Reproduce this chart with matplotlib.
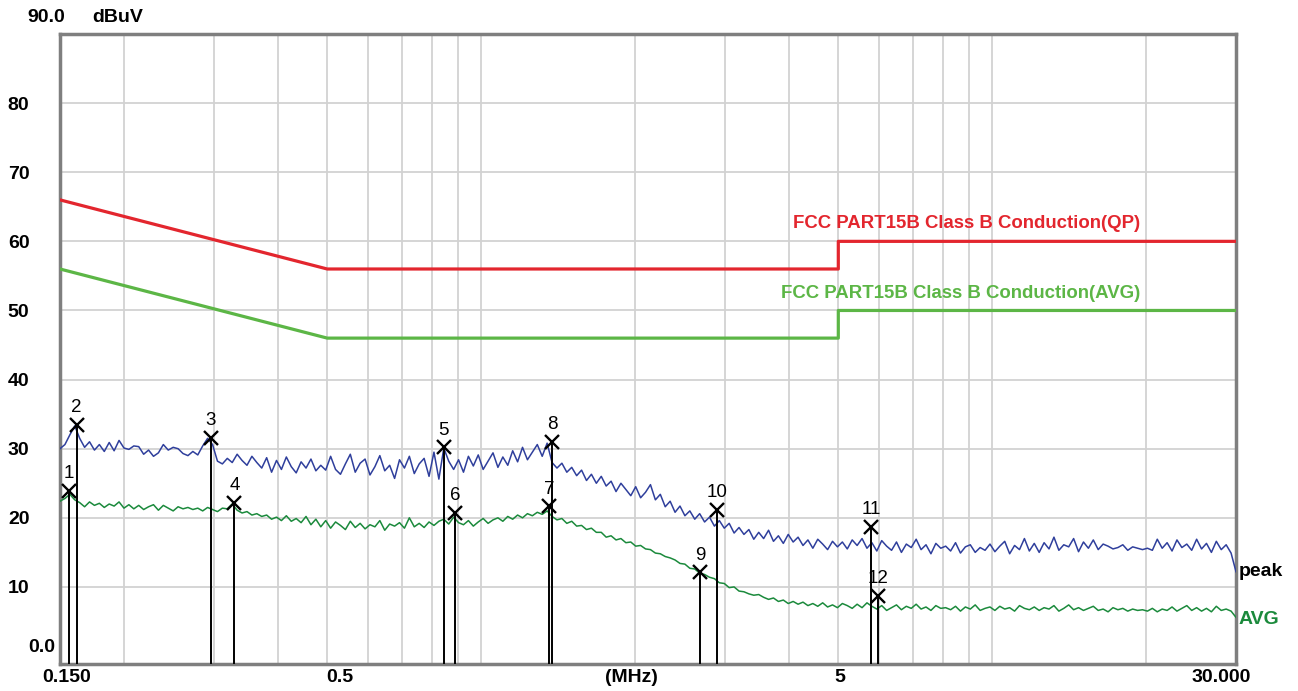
import numpy as np
import matplotlib
matplotlib.use("Agg")
import matplotlib.pyplot as plt
from matplotlib.ticker import NullFormatter, FixedLocator

# ---------------- data ----------------
f_start, f_stop = 0.15, 30.0

peak_level = [
    30.0, 30.6, 32.0, 33.3, 31.5, 30.2, 31.0, 29.8, 30.6, 29.6,
    30.9, 29.7, 31.2, 30.1, 29.9, 30.4, 30.3, 29.2, 29.8, 28.9,
    29.4, 30.6, 29.8, 30.2, 30.0, 29.3, 29.0, 29.6, 29.1, 30.4,
    31.5, 30.6, 28.2, 27.8, 28.6, 28.0, 29.2, 28.3, 27.6, 28.9,
    28.0, 27.2, 28.7, 26.6, 28.3, 27.0, 28.8, 27.4, 26.5, 28.1,
    27.2, 28.5, 26.8, 27.6, 26.9, 28.9, 27.0, 26.3, 27.8, 29.2,
    26.6, 27.9, 28.5, 26.2, 27.4, 29.0, 26.8, 27.6, 25.7, 28.4,
    27.2, 28.9, 26.4, 27.8, 28.6, 26.0, 29.5, 25.6, 30.1, 28.2,
    27.0, 28.4, 26.6, 28.9, 27.5, 29.1, 27.0, 28.2, 29.4, 27.3,
    28.8, 27.6, 29.7, 28.1, 30.2, 28.4, 29.5, 30.6, 28.9, 30.8,
    28.0, 27.2, 27.9, 26.6, 27.3, 26.1, 26.9, 25.4, 26.3, 25.0,
    26.0, 24.6, 25.3, 23.8, 25.0, 24.1, 23.2, 24.5, 22.9, 23.7,
    24.8, 22.6, 23.4, 21.6, 22.4, 20.8, 21.7, 20.3, 21.0, 19.8,
    20.6, 19.4, 20.1, 18.8, 19.6, 18.5, 19.2, 17.8, 18.6, 17.6,
    18.3, 16.9, 17.9, 17.0, 18.2, 16.6, 17.4, 16.3, 17.6, 16.5,
    17.2, 16.0, 16.8, 15.6, 16.9, 16.2, 15.4, 16.6, 15.8, 16.5,
    15.5, 16.8, 16.0, 17.0, 15.6, 16.4, 15.2, 16.7, 15.9, 15.3,
    16.5, 15.0, 16.2, 15.7, 16.9, 15.4, 16.1, 14.8, 16.3, 15.6,
    15.9, 15.2, 16.4, 14.9, 15.8, 16.1, 15.0, 15.7, 15.3, 16.2,
    15.1, 15.9, 16.6, 14.8, 16.0, 15.4, 17.0, 15.2, 16.3, 15.0,
    16.4, 15.5, 17.2, 15.3, 16.1, 15.8, 17.0, 15.1, 16.5, 15.6,
    16.8, 15.4, 16.2, 15.9, 15.5, 15.7, 16.1, 15.3, 15.8, 15.6,
    15.4, 15.6, 15.3, 16.9, 15.6, 16.4, 15.2, 16.8, 15.7, 16.2,
    15.3, 16.9, 15.5, 16.3, 15.0, 16.6, 15.4, 16.1, 14.9, 12.2,
]

avg_level = [
    22.4, 22.8, 23.4, 22.6, 22.2, 21.6, 22.3, 21.8, 22.1, 21.5,
    22.0, 21.7, 22.3, 21.4, 21.9, 21.3, 21.8, 21.2, 21.6, 21.9,
    21.1, 21.8, 21.4, 21.0, 21.6, 21.3, 21.5, 21.2, 21.4, 21.0,
    21.5, 21.2, 20.9, 21.4, 21.3, 22.0, 21.1, 20.7, 20.9, 20.4,
    20.6, 20.2, 20.4, 19.8, 20.1, 19.6, 20.3, 19.5, 19.9, 19.3,
    20.2, 19.0, 19.8, 18.7, 19.6, 18.5, 19.4, 18.9, 18.3, 19.5,
    18.6, 19.2, 18.4, 19.0, 18.7, 19.6, 18.2, 19.1, 18.8, 19.3,
    18.5, 20.0, 18.7, 19.2, 18.6, 19.4, 18.9, 19.5, 19.8, 19.1,
    20.1, 19.3, 19.0, 19.6, 18.8, 19.4, 19.9, 19.2, 19.7, 20.0,
    19.5, 20.2, 19.8, 20.4, 20.0, 20.6, 20.3, 20.8, 20.5, 21.0,
    20.2, 19.7, 19.9, 19.2, 19.5, 18.8, 18.9, 18.3, 18.5, 17.9,
    17.9, 17.2, 17.4, 16.8, 17.0, 16.4, 16.5, 15.9, 16.0, 15.5,
    15.4, 14.9, 14.8, 14.4, 14.2, 13.9, 13.4, 13.3, 12.7, 12.6,
    12.0, 11.8, 11.4, 11.2, 10.6, 10.5, 9.9, 10.0, 9.4, 9.3,
    9.0, 8.8, 8.9, 8.5, 8.2, 8.4, 7.9, 8.1, 7.6, 7.9,
    7.5, 7.8, 7.3, 7.6, 7.2, 7.7, 7.1, 7.4, 7.0, 7.6,
    7.3, 6.9, 7.5, 7.0, 7.7, 7.2, 6.8, 7.3, 6.6, 7.0,
    7.4, 6.7, 7.2, 6.9, 7.5, 6.8, 7.1, 6.6, 7.3, 6.9,
    7.0, 6.7, 7.2, 6.5, 7.1, 6.8, 7.4, 6.6, 6.9, 7.1,
    6.6, 7.2, 6.8, 7.0, 6.5, 7.3, 6.9, 6.7, 7.1, 6.6,
    7.0, 6.8, 7.3, 6.5, 6.9, 7.4, 6.7, 7.0, 6.6, 6.9,
    7.2, 6.6, 6.8, 6.4, 7.0, 6.7, 6.9, 6.5, 6.8, 6.6,
    6.7, 6.5, 6.9, 6.4, 6.8, 6.6, 7.1, 6.5, 6.9, 7.3,
    6.6, 7.0, 6.5, 6.9, 6.4, 7.2, 6.6, 6.8, 6.5, 5.6,
]

# sweep frequencies (log-spaced receiver sweep)
sweep_freq = np.geomspace(f_start, f_stop, len(peak_level))

# limit lines (FCC Part 15B Class B conducted)
qp_limit_freq = [0.15, 0.5, 5.0, 5.0, 30.0]
qp_limit_level = [66.0, 56.0, 56.0, 60.0, 60.0]
avg_limit_freq = [0.15, 0.5, 5.0, 5.0, 30.0]
avg_limit_level = [56.0, 46.0, 46.0, 50.0, 50.0]

# markers
marker_id = ["1", "2", "3", "4", "5", "6", "7", "8", "9", "10", "11", "12"]
marker_freq = [0.1562, 0.1617, 0.296, 0.329, 0.845, 0.891,
               1.360, 1.377, 2.68, 2.90, 5.79, 5.98]
marker_level = [23.9, 33.5, 31.6, 22.2, 30.2, 20.7,
                21.7, 31.0, 12.1, 21.2, 18.7, 8.7]

y_ticks = [10, 20, 30, 40, 50, 60, 70, 80]
x_tick_freq = [0.15, 0.5, 5, 30]
x_tick_label = ["0.150", "0.5", "5", "30.000"]

# ---------------- figure ----------------
W, H = 1298, 691
fig = plt.figure(figsize=(W / 100, H / 100), dpi=100)
fig.patch.set_facecolor("white")
ax = fig.add_axes([60 / W, 1 - 664 / H, 1176 / W, 630 / H])

ymin, ymax = -1.15, 90.0
ax.set_xscale("log")
ax.set_xlim(f_start, f_stop)
ax.set_ylim(ymin, ymax)

FONT = "Liberation Sans"
FS = 14
grid_c = "#d2d2d2"

# grid
minor_grid = [0.2, 0.3, 0.4, 0.5, 0.6, 0.7, 0.8, 0.9, 1, 2, 3, 4, 5, 6, 7, 8, 9, 10, 20]
ax.xaxis.set_major_locator(FixedLocator(minor_grid))
ax.xaxis.set_minor_locator(FixedLocator([]))
ax.xaxis.set_major_formatter(NullFormatter())
ax.xaxis.set_minor_formatter(NullFormatter())
ax.set_yticks(y_ticks)
ax.set_yticklabels([str(v) for v in y_ticks], fontsize=FS, fontweight="bold", family=FONT)
ax.tick_params(axis="both", length=0)
ax.tick_params(axis="y", pad=22)
ax.grid(True, color=grid_c, linewidth=1.3)
ax.set_axisbelow(True)

for s in ax.spines.values():
    s.set_color("#7f7f7f")
    s.set_linewidth(2.5)

# limit lines
ax.plot(qp_limit_freq, qp_limit_level, color="#e3262e", lw=2.3, zorder=3)
ax.plot(avg_limit_freq, avg_limit_level, color="#5cb646", lw=2.3, zorder=3)

# traces
ax.plot(sweep_freq, peak_level, color="#2f3f9c", lw=1.1, zorder=4)
ax.plot(sweep_freq, avg_level, color="#1b8a3c", lw=1.1, zorder=4)

# markers
for mid, mf, ml in zip(marker_id, marker_freq, marker_level):
    ax.vlines(mf, ymin, ml, color="black", lw=1.4, zorder=5)
    ax.plot(mf, ml, marker="x", color="black", ms=10, mew=1.7, zorder=6)
    ax.annotate(mid, xy=(mf, ml), xytext=(0, 17), textcoords="offset pixels",
                ha="center", va="center", fontsize=13.5, family=FONT, zorder=7)

# limit labels
ax.annotate("FCC PART15B Class B Conduction(QP)", xy=(1140 / W, 1 - 223 / H),
            xycoords="figure fraction", ha="right", va="center",
            color="#e3262e", fontsize=13.4, fontweight="bold", family=FONT)
ax.annotate("FCC PART15B Class B Conduction(AVG)", xy=(1140 / W, 1 - 293 / H),
            xycoords="figure fraction", ha="right", va="center",
            color="#5cb646", fontsize=13.4, fontweight="bold", family=FONT)

# trace labels
fig.text(1239 / W, 1 - 572 / H, "peak", ha="left", va="center",
         fontsize=FS, fontweight="bold", family=FONT, color="black")
fig.text(1239 / W, 1 - 620 / H, "AVG", ha="left", va="center",
         fontsize=FS, fontweight="bold", family=FONT, color="#1b8a3c")

# y extra labels
fig.text(65 / W, 1 - 17 / H, "90.0", ha="right", va="center",
         fontsize=FS, fontweight="bold", family=FONT)
fig.text(92 / W, 1 - 17 / H, "dBuV", ha="left", va="center",
         fontsize=FS, fontweight="bold", family=FONT)
fig.text(55 / W, 1 - 647 / H, "0.0", ha="right", va="center",
         fontsize=FS, fontweight="bold", family=FONT)

# x labels
x_offsets = [7, 13, 2, -15]
for f, lab, dx in zip(x_tick_freq, x_tick_label, x_offsets):
    ax.annotate(lab, xy=(f, 0), xycoords=("data", "axes fraction"),
                xytext=(dx, -14), textcoords="offset pixels",
                ha="center", va="center", fontsize=FS, fontweight="bold", family=FONT)
fig.text(631 / W, 1 - 678 / H, "(MHz)", ha="center", va="center",
         fontsize=FS, fontweight="bold", family=FONT)

fig.savefig("out.png", dpi=100, facecolor="white")
